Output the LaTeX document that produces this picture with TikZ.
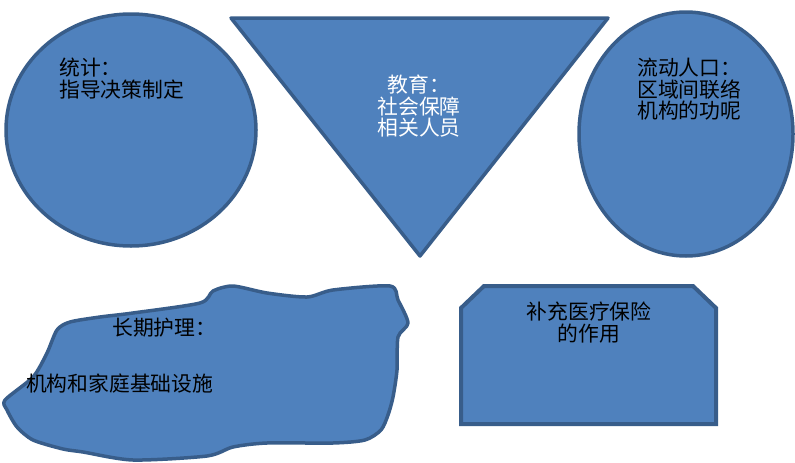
\documentclass[tikz,border=0pt]{standalone}
\usepackage{fontspec}
\newfontfamily\cjk{Noto Sans CJK SC}
\definecolor{shapefill}{HTML}{4F81BD}
\definecolor{shapeline}{HTML}{385D8A}
\begin{document}
\begin{tikzpicture}[x=1pt,y=-1pt,
  blueshape/.style={fill=shapefill,draw=shapeline,line width=3.5pt,line join=round},
  lbl/.style={inner sep=0pt,font=\cjk\fontsize{20.8}{21.5}\selectfont},
]
\useasboundingbox (0,0) rectangle (795,463);
% left ellipse
\draw[blueshape] (131,130) ellipse [x radius=125, y radius=116];
% triangle
\draw[blueshape] (231,18) -- (608,18) -- (420,256) -- cycle;
% right ellipse
\draw[blueshape] (686,134) ellipse [x radius=107, y radius=122];
% blob
\draw[blueshape] plot[smooth cycle, tension=0.45] coordinates {
  (5,400) (33,377) (47,353) (57,330) (70,322) (100,317) (133,313)
  (200,303) (213,291) (233,286) (267,293) (307,297) (333,290) (390,286)
  (398,300) (408,323) (398,337) (397,370) (393,397) (388,415) (381,430)
  (365,440) (333,443) (267,443) (233,447) (207,456) (133,460) (83,452)
  (63,449) (33,440) (17,427) (7,410)};
% chamfered box
\draw[blueshape,line width=4pt,line join=miter] (461,308) -- (484,286) -- (693,286) -- (716,308)
  -- (716,424) -- (461,424) -- cycle;
% texts
\node[lbl,anchor=north west,align=left] (stat) at (59,58) {统计：\\指导决策制定};
\node[lbl,anchor=north,align=center,text=white] (edu) at (419,75) {教育：\\社会保障\\相关人员};
\node[lbl,anchor=north west,align=left] (flow) at (637,58) {流动人口：\\区域间联络\\机构的功呢};
\node[lbl,anchor=north west,align=left] (care) at (26,318) {\hspace*{86pt}长期护理：\\[34pt]机构和家庭基础设施};
\node[lbl,anchor=north,align=center] (ins) at (589,302) {补充医疗保险\\的作用};
\end{tikzpicture}
\end{document}
